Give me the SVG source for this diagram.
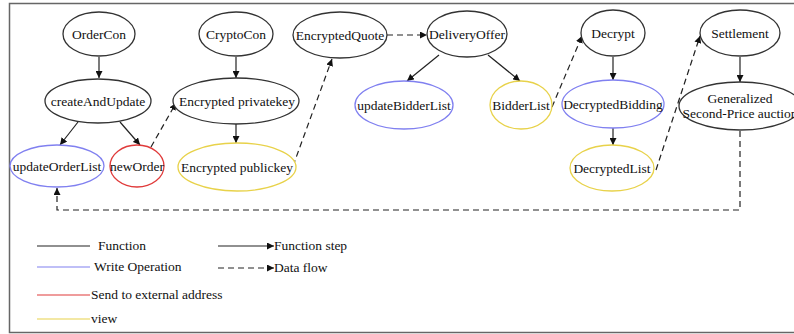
<svg xmlns="http://www.w3.org/2000/svg" width="794" height="334" viewBox="0 0 794 334">
  <style>
    text { font-family: "Liberation Serif", "Times New Roman", serif; font-size: 13.5px; fill: #111; }
    .n { text-anchor: middle; dominant-baseline: central; }
    ellipse { fill: #fff; stroke-width: 1.3; }
    .fn { stroke: #333; }
    .wr { stroke: #8080f0; }
    .ext { stroke: #e03a3a; }
    .vw { stroke: #e8d24a; }
    .e { fill: none; stroke: #222; stroke-width: 1.2; }
    .d { stroke-dasharray: 6 4; }
  </style>
  <defs>
    <marker id="ah" viewBox="0 0 10 10" refX="10" refY="5" markerWidth="7" markerHeight="7" markerUnits="userSpaceOnUse" orient="auto">
      <path d="M0,0 L10,5 L0,10 z" fill="#111"/>
    </marker>
  </defs>

  <rect x="9.5" y="3.5" width="800" height="329" fill="#fff" stroke="#666" stroke-width="1.5"/>

  <g id="connectors">
    <line class="e" x1="99" y1="57" x2="99" y2="78" marker-end="url(#ah)"/>
    <line class="e" x1="78" y1="122" x2="60" y2="145" marker-end="url(#ah)"/>
    <line class="e" x1="120" y1="122" x2="140" y2="145" marker-end="url(#ah)"/>
    <line class="e d" x1="151" y1="147" x2="176" y2="103" marker-end="url(#ah)"/>
    <line class="e" x1="236" y1="57" x2="236" y2="78" marker-end="url(#ah)"/>
    <line class="e" x1="236" y1="124" x2="236" y2="143" marker-end="url(#ah)"/>
    <line class="e d" x1="293" y1="166" x2="332" y2="59" marker-end="url(#ah)"/>
    <line class="e d" x1="387" y1="35" x2="427" y2="35" marker-end="url(#ah)"/>
    <line class="e" x1="439" y1="55" x2="407" y2="81" marker-end="url(#ah)"/>
    <line class="e" x1="488" y1="55" x2="520" y2="81" marker-end="url(#ah)"/>
    <line class="e d" x1="552" y1="107" x2="582" y2="36" marker-end="url(#ah)"/>
    <line class="e" x1="613" y1="57" x2="613" y2="80" marker-end="url(#ah)"/>
    <line class="e" x1="613" y1="128" x2="613" y2="145" marker-end="url(#ah)"/>
    <line class="e d" x1="656" y1="170" x2="700" y2="36" marker-end="url(#ah)"/>
    <line class="e" x1="740" y1="57" x2="740" y2="82" marker-end="url(#ah)"/>
    <polyline class="e d" points="740,131 740,210 57,210 57,188" marker-end="url(#ah)"/>
  </g>

  <g id="OrderCon"><ellipse class="fn" cx="99" cy="34" rx="36" ry="22"/><text class="n" x="99" y="34">OrderCon</text></g>
  <g id="createAndUpdate"><ellipse class="fn" cx="98" cy="101" rx="53" ry="22"/><text class="n" x="98" y="101">createAndUpdate</text></g>
  <g id="updateOrderList"><ellipse class="wr" cx="57" cy="166" rx="47" ry="21"/><text class="n" x="57" y="166">updateOrderList</text></g>
  <g id="newOrder"><ellipse class="ext" cx="137" cy="166" rx="27" ry="21"/><text class="n" x="137" y="166">newOrder</text></g>
  <g id="CryptoCon"><ellipse class="fn" cx="236" cy="34" rx="37" ry="22"/><text class="n" x="236" y="34">CryptoCon</text></g>
  <g id="EncryptedPrivatekey"><ellipse class="fn" cx="236" cy="101" rx="63" ry="23"/><text class="n" x="237" y="101">Encrypted privatekey</text></g>
  <g id="EncryptedPublickey"><ellipse class="vw" cx="237" cy="167" rx="59" ry="24"/><text class="n" x="237" y="167">Encrypted publickey</text></g>
  <g id="EncryptedQuote"><ellipse class="fn" cx="340" cy="35" rx="47" ry="23"/><text class="n" x="340" y="35">EncryptedQuote</text></g>
  <g id="DeliveryOffer"><ellipse class="fn" cx="467" cy="34" rx="40" ry="23"/><text class="n" x="467" y="34">DeliveryOffer</text></g>
  <g id="updateBidderList"><ellipse class="wr" cx="404" cy="105" rx="49" ry="24"/><text class="n" x="404" y="105">updateBidderList</text></g>
  <g id="BidderList"><ellipse class="vw" cx="521" cy="105" rx="31" ry="24"/><text class="n" x="521" y="105">BidderList</text></g>
  <g id="Decrypt"><ellipse class="fn" cx="613" cy="33" rx="32" ry="23"/><text class="n" x="613" y="33">Decrypt</text></g>
  <g id="DecryptedBidding"><ellipse class="wr" cx="613" cy="104" rx="51" ry="24"/><text class="n" x="613" y="104">DecryptedBidding</text></g>
  <g id="DecryptedList"><ellipse class="vw" cx="612" cy="168" rx="42" ry="23"/><text class="n" x="612" y="168">DecryptedList</text></g>
  <g id="Settlement"><ellipse class="fn" cx="740" cy="33" rx="40" ry="23"/><text class="n" x="740" y="33">Settlement</text></g>
  <g id="GSPAuction"><ellipse class="fn" cx="740" cy="106" rx="61" ry="24"/>
    <text class="n" x="740" y="98">Generalized</text>
    <text class="n" x="740" y="113">Second-Price auction</text></g>

  <g id="legend">
    <line x1="37" y1="246" x2="90" y2="246" stroke="#222" stroke-width="1.2"/>
    <text x="98" y="250">Function</text>
    <line x1="37" y1="267" x2="90" y2="267" stroke="#8080f0" stroke-width="1.2"/>
    <text x="94" y="271">Write Operation</text>
    <line x1="37" y1="295" x2="90" y2="295" stroke="#e03a3a" stroke-width="1.2"/>
    <text x="91" y="299">Send to external address</text>
    <line x1="37" y1="319" x2="90" y2="319" stroke="#e8d24a" stroke-width="1.2"/>
    <text x="91" y="323">view</text>
    <line class="e" x1="218" y1="246" x2="274" y2="246" marker-end="url(#ah)"/>
    <text x="274" y="250">Function step</text>
    <line class="e d" x1="218" y1="268" x2="274" y2="268" marker-end="url(#ah)"/>
    <text x="274" y="272">Data flow</text>
  </g>
</svg>
